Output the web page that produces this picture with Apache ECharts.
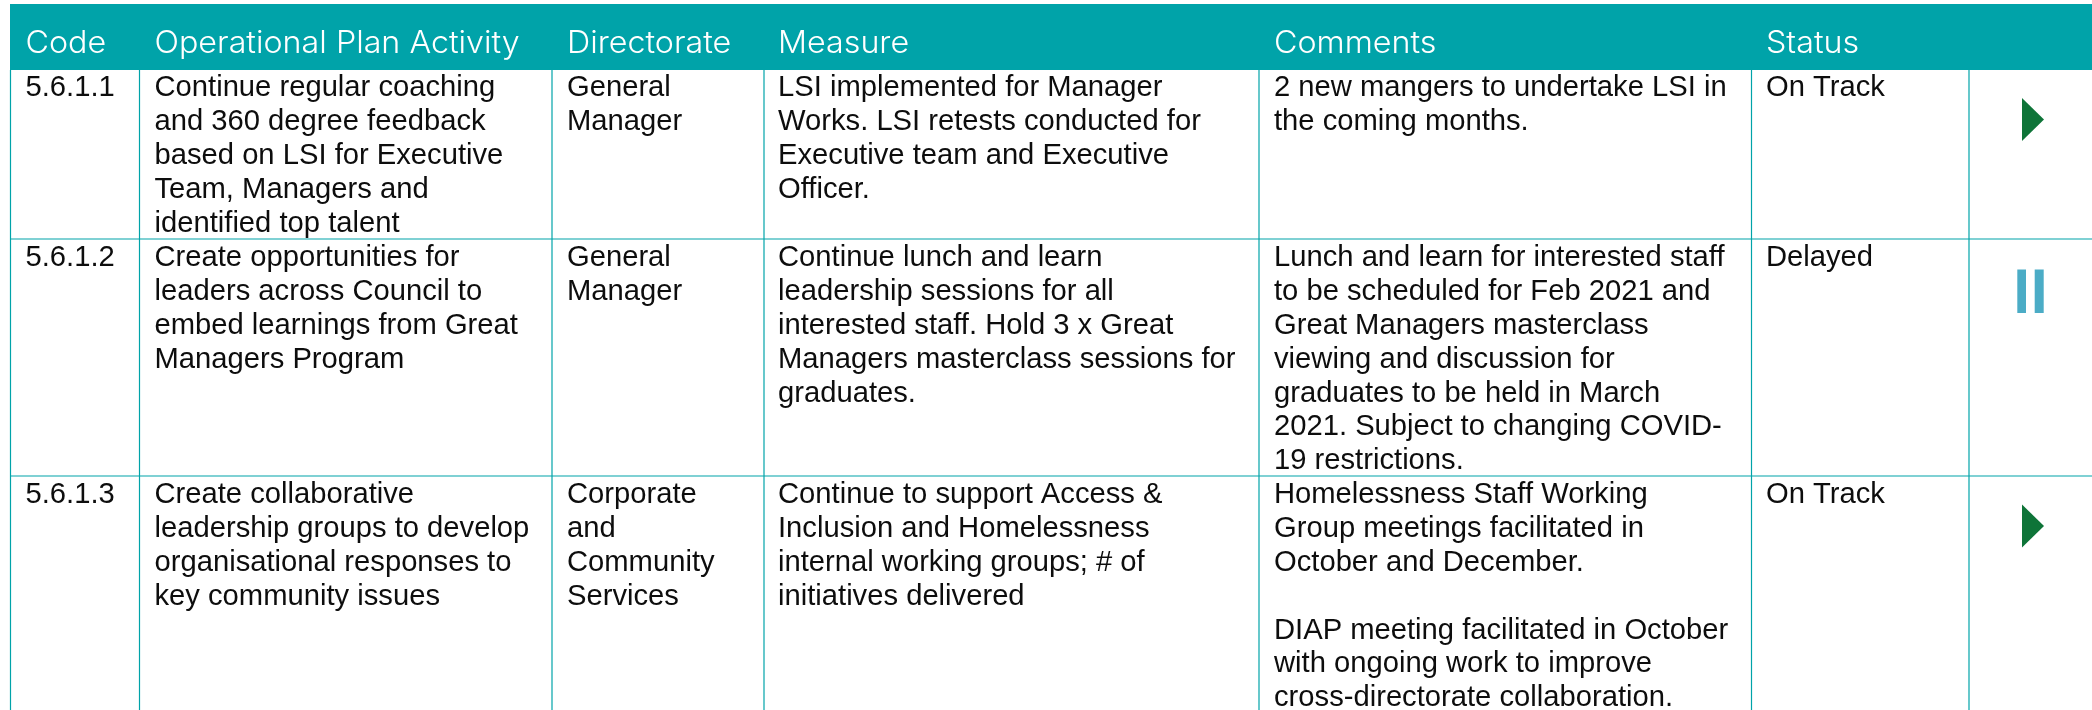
<!DOCTYPE html>
<html>
<head>
<meta charset="utf-8">
<title>Operational Plan Activity</title>
<script src="https://cdn.jsdelivr.net/npm/echarts@6/dist/echarts.min.js"></script>
<style>
  html, body { margin: 0; padding: 0; background: #fff; }
  #chart { width: 2092px; height: 710px; }
</style>
</head>
<body>
<div id="chart"></div>
<script>
// table content
const headers = ['Code', 'Operational Plan Activity', 'Directorate', 'Measure', 'Comments', 'Status']
const codes = ['5.6.1.1', '5.6.1.2', '5.6.1.3']
const activities = [
  'Continue regular coaching\nand 360 degree feedback\nbased on LSI for Executive\nTeam, Managers and\nidentified top talent',
  'Create opportunities for\nleaders across Council to\nembed learnings from Great\nManagers Program',
  'Create collaborative\nleadership groups to develop\norganisational responses to\nkey community issues'
]
const directorates = ['General\nManager', 'General\nManager', 'Corporate\nand\nCommunity\nServices']
const measures = [
  'LSI implemented for Manager\nWorks. LSI retests conducted for\nExecutive team and Executive\nOfficer.',
  'Continue lunch and learn\nleadership sessions for all\ninterested staff. Hold 3 x Great\nManagers masterclass sessions for\ngraduates.',
  'Continue to support Access &\nInclusion and Homelessness\ninternal working groups; # of\ninitiatives delivered'
]
const comments = [
  '2 new mangers to undertake LSI in\nthe coming months.',
  'Lunch and learn for interested staff\nto be scheduled for Feb 2021 and\nGreat Managers masterclass\nviewing and discussion for\ngraduates to be held in March\n2021. Subject to changing COVID-\n19 restrictions.',
  'Homelessness Staff Working\nGroup meetings facilitated in\nOctober and December.\n\nDIAP meeting facilitated in October\nwith ongoing work to improve\ncross-directorate collaboration.'
]
const statuses = ['On Track', 'Delayed', 'On Track']

// layout of the table, the axes below run in picture pixels
const columnEdges = [10.5, 139.5, 552, 764, 1259, 1751.5, 1969, 2092]
const rowEdges = [70, 239, 476, 710]
const headerTop = 4
const headerLeft = [25.5, 154.5, 567, 778, 1274, 1766]
const textLeft = [25.5, 154.5, 567, 778, 1274, 1766]
const rowTextTop = [71.5, 241.5, 478.5]
const iconX = 2033
const iconY = [119.5, 291, 526]

const teal = '#00a3a9'
const bodyFont = '"Liberation Sans", Arial, sans-serif'
const headFont = 'Inter, "Open Sans", sans-serif'

const columns = [codes, activities, directorates, measures, comments, statuses]
const cells = []
columns.forEach((col, c) => {
  col.forEach((text, r) => cells.push([textLeft[c], rowTextTop[r], text]))
})
const headerCells = headers.map((h, c) => [headerLeft[c], 44, h])
const iconData = statuses.map((s, r) => [iconX, iconY[r], s])

const chart = echarts.init(document.getElementById('chart'))
chart.setOption({
  animation: false,
  grid: { left: 0, right: 0, top: 0, bottom: 0 },
  xAxis: { type: 'value', min: 0, max: 2092, show: false },
  yAxis: { type: 'value', min: 0, max: 710, inverse: true, show: false },
  series: [
    {
      // header band
      type: 'custom',
      silent: true,
      data: [[10, headerTop, 2092, rowEdges[0]]],
      renderItem(params, api) {
        const a = api.coord([api.value(0), api.value(1)])
        const b = api.coord([api.value(2), api.value(3)])
        return { type: 'rect', shape: { x: a[0], y: a[1], width: b[0] - a[0], height: b[1] - a[1] }, style: { fill: teal } }
      }
    },
    {
      // vertical rules
      type: 'custom',
      silent: true,
      data: columnEdges.slice(0, 7).map(x => [x]),
      renderItem(params, api) {
        const a = api.coord([api.value(0), rowEdges[0]])
        const b = api.coord([api.value(0), 710])
        return { type: 'line', shape: { x1: a[0], y1: a[1], x2: b[0], y2: b[1] }, style: { stroke: teal, lineWidth: 1.2 } }
      }
    },
    {
      // horizontal rules
      type: 'custom',
      silent: true,
      data: rowEdges.slice(1, 3).map(y => [y]),
      renderItem(params, api) {
        const a = api.coord([columnEdges[0], api.value(0)])
        const b = api.coord([2092, api.value(0)])
        return { type: 'line', shape: { x1: a[0], y1: a[1], x2: b[0], y2: b[1] }, style: { stroke: teal, lineWidth: 1.2 } }
      }
    },
    {
      // header labels
      type: 'custom',
      silent: true,
      encode: { x: 0, y: 1 },
      data: headerCells,
      renderItem(params, api) {
        const p = api.coord([api.value(0), api.value(1)])
        return {
          type: 'text',
          x: p[0],
          y: p[1],
          scaleX: 1.04,
          style: {
            text: headerCells[params.dataIndex][2],
            fill: '#ffffff',
            font: '300 31px ' + headFont,
            textAlign: 'left',
            textVerticalAlign: 'middle'
          }
        }
      }
    },
    {
      // body cells
      type: 'custom',
      silent: true,
      encode: { x: 0, y: 1 },
      data: cells,
      renderItem(params, api) {
        const p = api.coord([api.value(0), api.value(1)])
        return {
          type: 'text',
          x: p[0],
          y: p[1],
          style: {
            text: cells[params.dataIndex][2],
            fill: '#0d0d0d',
            font: '29.2px ' + bodyFont,
            lineHeight: 33.8,
            textAlign: 'left',
            textVerticalAlign: 'top'
          }
        }
      }
    },
    {
      // status icons
      type: 'custom',
      silent: true,
      encode: { x: 0, y: 1 },
      data: iconData,
      renderItem(params, api) {
        const p = api.coord([api.value(0), api.value(1)])
        if (iconData[params.dataIndex][2] === 'Delayed') {
          return {
            type: 'group',
            children: [
              { type: 'rect', shape: { x: p[0] - 15.7, y: p[1] - 21.5, width: 8.7, height: 43.5 }, style: { fill: '#4bacc6' } },
              { type: 'rect', shape: { x: p[0] + 1.7, y: p[1] - 21.5, width: 9, height: 43.5 }, style: { fill: '#4bacc6' } }
            ]
          }
        }
        return {
          type: 'polygon',
          shape: { points: [[p[0] - 11, p[1] - 21.5], [p[0] + 11, p[1]], [p[0] - 11, p[1] + 21.5]] },
          style: { fill: '#0e7438' }
        }
      }
    }
  ]
})
</script>
</body>
</html>
